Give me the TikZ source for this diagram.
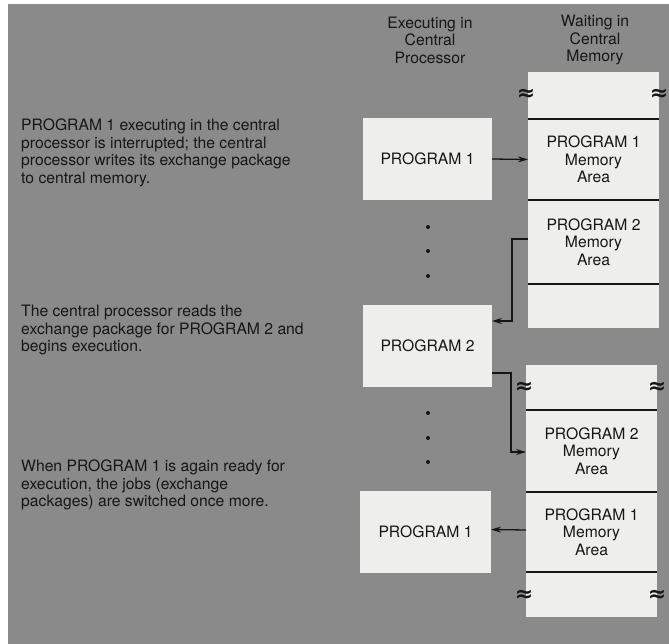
\documentclass[tikz,border=0pt]{standalone}
\usepackage{fontspec}
\setmainfont{TeX Gyre Heros}
\newfontfamily\brkfont{DejaVu Sans}
\usetikzlibrary{arrows.meta,positioning,calc}
\definecolor{plate}{RGB}{138,138,138}
\definecolor{paper}{RGB}{238,238,236}
\definecolor{ink}{RGB}{22,22,22}
\newcommand{\brkmark}{{\brkfont\bfseries\fontsize{22}{22}\selectfont ≈}}
\tikzset{
  cpu/.style={rectangle, fill=paper, minimum width=129pt, minimum height=82pt,
              inner sep=0pt, outer sep=0pt, align=center, text=ink},
  seg/.style={rectangle, fill=paper, minimum width=131pt, inner sep=0pt,
              outer sep=0pt, align=center, text=ink},
  ar/.style={-{Stealth[length=10pt,width=6pt]}, line width=1.3pt, draw=ink},
  sep/.style={draw=ink, line width=1.3pt},
  brk/.style={text=ink, inner sep=0pt},
}

\begin{document}
\begin{tikzpicture}[x=1pt,y=-1pt,
  font=\fontsize{15.7}{17.5}\selectfont,
  hdr/.style={align=center, text=ink, inner sep=0pt},
  note/.style={align=left, text=ink, inner sep=0pt, anchor=north west},
  dot/.style={circle, fill=ink, inner sep=0pt, minimum size=4pt},
]
\useasboundingbox (0,0) rectangle (669,644);
\fill[plate] (8,4) rectangle (669,644);

% ===================== COLUMN HEADERS =====================
\node[hdr] (h_cpu) at (430,40) {Executing in\\Central\\Processor};
\node[hdr] (h_mem) at (595,40) {Waiting in\\Central\\Memory};

% ===================== CENTRAL MEMORY, FIRST SNAPSHOT =====================
\node[seg, minimum height=47pt, anchor=north] (m1top) at (593.5,72) {};
\node[seg, minimum height=81pt, anchor=north] (m1p1) at (m1top.south)
  {PROGRAM 1\\Memory\\Area};
\node[seg, minimum height=84pt, anchor=north] (m1p2) at (m1p1.south)
  {PROGRAM 2\\Memory\\Area};
\node[seg, minimum height=44pt, anchor=north] (m1bot) at (m1p2.south) {};
\foreach \s in {m1p1,m1p2,m1bot}
  \draw[sep] (\s.north west) -- (\s.north east);

% ===================== CENTRAL MEMORY, SECOND SNAPSHOT =====================
\node[seg, minimum height=45pt, anchor=north] (m2top) at (591.5,365) {};
\node[seg, minimum height=82pt, anchor=north] (m2p2) at (m2top.south)
  {PROGRAM 2\\Memory\\Area};
\node[seg, minimum height=80pt, anchor=north] (m2p1) at (m2p2.south)
  {PROGRAM 1\\Memory\\Area};
\node[seg, minimum height=45pt, anchor=north] (m2bot) at (m2p1.south) {};
\foreach \s in {m2p2,m2p1,m2bot}
  \draw[sep] (\s.north west) -- (\s.north east);

% break marks on both edges
\foreach \s/\dy in {m1top/-1,m2top/0,m2bot/1}{
  \node[brk] at ($(\s.west)+(-2,\dy)$) {\brkmark};
  \node[brk] at ($(\s.east)+(0,\dy)$) {\brkmark};
}

% ===================== CENTRAL PROCESSOR =====================
\node[cpu] (c1) at (427.5,159) {PROGRAM 1};
\node[cpu] (c2) at (427.5,346) {PROGRAM 2};
\node[cpu, minimum width=131pt] (c3) at (425.5,531.5) {PROGRAM 1};

\foreach \y in {227,251,276,413,438,462}
  \node[dot] at (428,\y) {};

% ===================== EXCHANGE PACKAGE TRANSFERS =====================
\coordinate (r1) at ($(m1p2.west)+(0,-3)$);
\coordinate (r2) at ($(c2.east)+(0,27)$);
\draw[ar] (c1.east) -- (m1p1.west);
\draw[ar] (r1) -| ++(-16,82) coordinate (k1) -- (c2.east |- k1);
\draw[ar] (r2) -| ++(19,79) coordinate (k2) -- (m2p2.west |- k2);
\draw[ar] ($(m2p1.west)+(0,-2)$) -- ($(c3.east)+(0,-2)$);

% ===================== STEP DESCRIPTIONS =====================
\node[note] (t1) at (21,119)
  {PROGRAM 1 executing in the central\\processor is interrupted; the central\\
   processor writes its exchange package\\to central memory.};
\node[note] (t2) at (21,305)
  {The central processor reads the\\exchange package for PROGRAM 2 and\\
   begins execution.};
\node[note] (t3) at (21,460)
  {When PROGRAM 1 is again ready for\\execution, the jobs (exchange\\
   packages) are switched once more.};

\end{tikzpicture}
\end{document}
